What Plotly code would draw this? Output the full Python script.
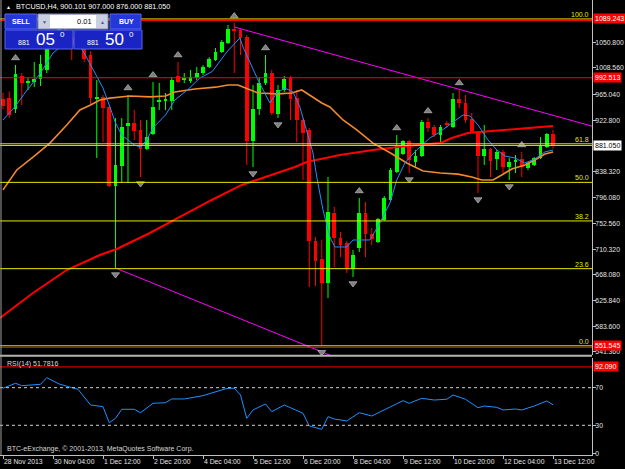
import plotly.graph_objects as go

# ---------------- data ----------------
bar_index = list(range(89))
opens = [957.5, 959.2, 941.1, 995.4, 983.9, 985.5, 990.4, 1005.3, 1046.4, 1062.0,
         1074.0, 1058.0, 1047.0, 1062.0, 1029.9, 957.5, 960.8, 944.4, 814.4, 847.3,
         913.1, 918.1, 906.6, 875.3, 900.0, 952.6, 954.3, 954.3, 995.4, 988.8,
         987.2, 992.1, 1000.3, 1010.2, 1021.7, 1034.9, 1049.7, 1072.7, 1071.1, 1059.5,
         888.5, 941.1, 983.9, 1000.3, 932.9, 972.4, 992.1, 959.2, 923.0, 906.6,
         723.9, 694.3, 654.9, 770.0, 728.9, 720.7, 677.9, 712.4, 770.0, 735.5,
         722.3, 758.5, 791.4, 837.5, 867.0, 888.5, 853.9, 863.8, 919.7, 911.5,
         898.3, 916.4, 911.5, 957.5, 951.0, 924.6, 903.3, 863.8, 875.3, 858.8,
         870.4, 845.7, 853.9, 858.8, 844.0, 849.0, 860.5, 878.6, 900.101]
highs = [967.4, 970.0, 1013.5, 1000.3, 992.1, 1018.4, 1029.9, 1058.0, 1070.0, 1082.0,
         1080.0, 1065.0, 1068.0, 1066.0, 1036.0, 988.8, 964.1, 947.7, 926.3, 926.3,
         964.1, 939.5, 923.0, 923.0, 985.5, 983.9, 967.4, 993.7, 1018.4, 1000.3,
         1005.3, 1010.2, 1013.5, 1026.6, 1041.4, 1054.6, 1079.3, 1082.5, 1072.7, 1062.8,
         980.6, 993.7, 1029.9, 1005.3, 980.6, 995.4, 995.4, 972.4, 926.3, 909.8,
         730.5, 725.6, 829.2, 779.9, 738.8, 723.9, 709.2, 794.7, 788.1, 745.3,
         761.8, 798.0, 844.0, 898.3, 890.1, 890.1, 873.7, 923.0, 926.3, 914.8,
         914.8, 921.4, 967.4, 972.4, 964.1, 934.5, 904.9, 914.8, 876.9, 873.7,
         873.7, 860.5, 865.4, 870.4, 853.9, 862.1, 895.0, 901.6, 907.0]
lows = [941.1, 926.3, 934.5, 947.7, 972.4, 977.3, 978.9, 1000.3, 1040.0, 1056.0,
        1050.0, 1021.7, 1042.0, 1018.4, 947.7, 860.5, 886.8, 812.8, 679.5, 819.4,
        819.4, 890.1, 829.2, 873.7, 898.3, 939.5, 939.5, 939.5, 983.9, 983.9,
        983.9, 988.8, 997.0, 1008.5, 1020.1, 1033.2, 1048.0, 1000.3, 1029.9, 849.0,
        845.7, 931.2, 980.6, 931.2, 926.3, 969.1, 923.0, 886.8, 824.3, 648.3,
        649.9, 551.545, 630.2, 681.2, 697.6, 671.3, 664.7, 705.9, 697.6, 717.4,
        720.7, 756.9, 789.7, 835.8, 865.4, 835.8, 845.7, 862.1, 903.3, 895.0,
        886.8, 909.8, 909.8, 942.7, 918.1, 901.6, 802.9, 849.0, 829.2, 840.8,
        835.8, 824.3, 835.8, 829.2, 840.8, 847.3, 858.8, 876.9, 876.0]
closes = [946.0, 931.2, 998.7, 983.9, 987.2, 990.4, 1015.1, 1046.4, 1062.0, 1074.0,
          1058.0, 1047.0, 1062.0, 1023.3, 959.2, 960.8, 942.7, 814.4, 849.0, 911.5,
          918.1, 904.9, 875.3, 895.0, 944.4, 955.9, 955.9, 988.8, 985.5, 992.1,
          993.7, 1000.3, 1010.2, 1023.3, 1034.9, 1051.3, 1072.7, 1069.4, 1057.9, 888.5,
          941.1, 983.9, 1000.3, 934.5, 972.4, 990.4, 957.5, 923.0, 901.6, 723.9,
          691.1, 654.9, 771.7, 728.9, 717.4, 679.5, 700.9, 770.0, 735.5, 727.3,
          760.2, 794.7, 840.8, 881.9, 888.5, 857.2, 863.8, 919.7, 909.8, 898.3,
          911.5, 915.0, 957.5, 951.0, 923.0, 903.3, 863.8, 875.3, 855.0, 870.4,
          845.7, 853.9, 857.2, 845.7, 852.3, 860.5, 880.2, 900.0, 881.05]

# moving averages (bar position, value)
ma_fast_idx = [0, 2, 3.5, 6, 8, 10, 11, 12, 13, 15, 16, 17, 18, 19, 21, 22, 23, 24, 26,
               27.5, 29.5, 31.5, 33.5, 35.8, 37.9, 38.4, 39.5, 40.8, 42.7, 43.8, 45.1,
               46.4, 47.5, 48.6, 49.6, 50.2, 51.2, 52.3, 53.1, 55, 56, 58.7, 60.3, 61.9,
               63, 64.3, 66.2, 68.3, 69.9, 71.8, 73.6, 74.7, 76, 77.6, 79, 80.3, 81.9,
               83.5, 85.1, 86.7, 88]
ma_fast_val = [923.0, 946.0, 967.4, 1000.3, 1033.2, 1050.0, 1053.0, 1048.0, 1033.2, 993.7,
               975.6, 947.7, 918.0, 898.3, 881.9, 878.6, 890.1, 910.0, 931.2, 955.9,
               972.4, 992.0, 1003.0, 1034.9, 1057.9, 1043.1, 1016.8, 988.8, 951.0, 967.4,
               975.6, 969.1, 944.4, 906.6, 868.7, 829.2, 775.0, 730.5, 714.1, 714.1,
               725.6, 725.6, 753.6, 786.5, 824.3, 852.3, 873.7, 893.4, 903.3, 918.1,
               931.2, 929.6, 914.8, 890.1, 873.7, 863.8, 860.5, 852.3, 858.8, 870.4, 873.7]
ma_mid_idx = [0, 2.2, 4.8, 7.5, 10.2, 12.3, 14, 15.5, 17.1, 20.3, 23.5, 26, 27.5, 30.7,
              34, 36, 37.6, 38.7, 40.8, 44, 46.2, 47.8, 49.1, 51, 52.3, 54.4, 56.6, 59.2,
              62, 64.6, 67.2, 70, 72.8, 75, 76.6, 78.4, 79.8, 81.4, 83.5, 85.1, 86.7, 88]
ma_mid_val = [808.0, 840.8, 862.0, 885.0, 914.8, 939.5, 947.7, 955.9, 959.0, 962.5, 961.0,
              962.5, 969.0, 974.0, 977.0, 980.6, 980.6, 975.6, 967.4, 966.0, 967.4, 972.4,
              964.0, 951.0, 944.4, 923.0, 906.6, 885.0, 868.7, 852.3, 839.0, 835.8, 834.0,
              829.2, 824.3, 824.3, 832.5, 842.4, 849.0, 857.2, 867.0, 870.4]
ma_slow_idx = [-0.5, 4.8, 10.2, 15.5, 18.2, 23.5, 28, 33.4, 38.2, 41.4, 46.7, 48.6, 53.9,
               59.2, 64.6, 70, 71.8, 74.4, 79.8, 85.1, 88]
ma_slow_val = [597.3, 638.4, 676.2, 700.9, 710.8, 737.1, 761.8, 791.4, 816.1, 827.6, 845.7,
               853.9, 865.4, 873.7, 880.2, 885.2, 893.4, 901.6, 906.6, 911.5, 913.1]

# RSI(14)
rsi_idx = [0, 2, 3, 6, 7, 9, 11, 12, 14, 16, 17, 18, 19, 21, 22, 24, 26, 27, 29, 32, 35,
           36, 37, 38, 39, 40, 42, 43, 45, 48, 49, 51, 52, 53, 55, 57, 59, 61, 63, 64, 65,
           67, 69, 71, 72, 74, 76, 77, 79, 80, 82, 83, 85, 87, 88]
rsi_val = [69.4, 74.7, 72.1, 73.6, 80.6, 73.9, 70.0, 68.3, 51.6, 49.8, 32.8, 37.4, 47.0,
           47.0, 43.4, 53.4, 54.0, 58.0, 58.0, 61.5, 67.6, 69.4, 69.4, 62.2, 37.4, 46.3,
           52.7, 44.5, 51.6, 42.8, 29.3, 25.7, 39.1, 36.7, 34.6, 43.4, 39.9, 46.3, 53.4,
           56.2, 53.4, 58.7, 56.9, 57.7, 62.2, 57.7, 48.7, 50.5, 49.1, 46.3, 47.3, 46.3,
           50.5, 55.9, 51.78]

# fractals
fractal_up = [2, 20, 24, 28, 37, 42, 57, 63, 68, 73, 83]
fractal_down = [18, 22, 40, 44, 51, 56, 65, 76, 81]

# levels
fib_high, fib_low = 1089.243, 551.545
fib_ratios = [1.0, 0.618, 0.5, 0.382, 0.236, 0.0]
fib_names = ["100.0", "61.8", "50.0", "38.2", "23.6", "0.0"]
red_levels = [1089.243, 992.513, 551.545]
bid_price = 881.05
rsi_red_level = 92.09

# trend lines (anchor points: bar, price)
trend_upper = [(37, 1076.0), (88, 930.7)]
trend_lower = [(18, 679.5), (51, 541.6)]

price_ticks = [1050.8, 1008.56, 965.04, 922.8, 838.32, 796.08, 752.56,
               710.32, 668.08, 625.84, 583.6, 541.36]
time_tick_idx = [0, 8, 16, 24, 32, 40, 48, 56, 64, 72, 80, 88]
time_tick_text = ["28 Nov 2013", "30 Nov 04:00", "1 Dec 12:00", "2 Dec 20:00",
                  "4 Dec 04:00", "5 Dec 12:00", "6 Dec 20:00", "8 Dec 04:00",
                  "9 Dec 12:00", "10 Dec 20:00", "12 Dec 04:00", "13 Dec 12:00"]

# ---------------- layout geometry ----------------
W, H = 625, 469
MR, MB = 33, 14
PW, PH = W - MR, H - MB          # plot area 592 x 455
MAIN_BOT, RSI_TOP = 355.0, 357.5
y_range = [536.4, 1120.4]
rsi_range = [-1.6, 102.1]
x_range = [-0.48, 94.24]
ppx = (y_range[1] - y_range[0]) / MAIN_BOT   # price per pixel


def PX(px):
    return px / PW


def PY(py):
    return (PH - py) / PH


FONT = "Liberation Sans, Arial, sans-serif"
UP_C, DN_C = "#00FF00", "#FF0000"

fig = go.Figure()

# wicks
for is_up, col in ((True, UP_C), (False, DN_C)):
    xs, ys = [], []
    for i, o, h, l, c in zip(bar_index, opens, highs, lows, closes):
        if (c >= o) == is_up:
            xs += [i, i, None]
            ys += [l, h, None]
    fig.add_trace(go.Scatter(x=xs, y=ys, mode="lines", line=dict(color=col, width=1),
                             hoverinfo="skip"))

# bodies
bases = [min(o, c) for o, c in zip(opens, closes)]
heights = [max(abs(c - o), ppx) for o, c in zip(opens, closes)]
colors = [UP_C if c >= o else DN_C for o, c in zip(opens, closes)]
fig.add_trace(go.Bar(x=bar_index, y=heights, base=bases, width=0.6,
                     marker=dict(color=colors, line=dict(width=0))))

# moving averages
fig.add_trace(go.Scatter(x=ma_slow_idx, y=ma_slow_val, mode="lines",
                         line=dict(color="#FF0000", width=2)))
fig.add_trace(go.Scatter(x=ma_mid_idx, y=ma_mid_val, mode="lines",
                         line=dict(color="#F2892A", width=1.6)))
fig.add_trace(go.Scatter(x=ma_fast_idx, y=ma_fast_val, mode="lines",
                         line=dict(color="#1E90FF", width=1)))


# trend lines as rays
def ray(p1, p2):
    (x1, y1), (x2, y2) = p1, p2
    slope = (y2 - y1) / (x2 - x1)
    xe = x_range[1]
    return [x1, xe], [y1, y1 + slope * (xe - x1)]


for tl in (trend_upper, trend_lower):
    rx, ry = ray(*tl)
    fig.add_trace(go.Scatter(x=rx, y=ry, mode="lines", line=dict(color="#FF00FF", width=1)))

# fractals
fig.add_trace(go.Scatter(x=fractal_up, y=[highs[i] + 7 * ppx for i in fractal_up],
                         mode="markers",
                         marker=dict(symbol="triangle-up", size=7, color="#7E7E7E",
                                     line=dict(color="#CFCFCF", width=0.6))))
fig.add_trace(go.Scatter(x=fractal_down, y=[lows[i] - 6.5 * ppx for i in fractal_down],
                         mode="markers",
                         marker=dict(symbol="triangle-down", size=7, color="#7E7E7E",
                                     line=dict(color="#CFCFCF", width=0.6))))

# RSI
fig.add_trace(go.Scatter(x=rsi_idx, y=rsi_val, mode="lines", xaxis="x2", yaxis="y2",
                         line=dict(color="#1E90FF", width=1)))

shapes = []
# fib lines
YEL = "#E8E800"
for r in fib_ratios:
    lv = fib_low + r * (fib_high - fib_low)
    shapes.append(dict(type="line", xref="paper", x0=0, x1=1, yref="y", y0=lv, y1=lv,
                       line=dict(color=YEL, width=1), layer="above"))
# red horizontal lines (drawn a pixel under the fib ends)
for lv in red_levels:
    off = -1.6 if lv in (fib_high, fib_low) else 0
    shapes.append(dict(type="line", xref="paper", x0=0, x1=1, yref="y", ysizemode="pixel",
                       yanchor=lv, y0=off, y1=off, line=dict(color="#FF0000", width=1),
                       layer="above"))
# bid line
shapes.append(dict(type="line", xref="paper", x0=0, x1=1, yref="y", y0=bid_price,
                   y1=bid_price, line=dict(color="#B8BCC8", width=1), layer="above"))
# RSI levels
for lv in (70, 30):
    shapes.append(dict(type="line", xref="paper", x0=0, x1=1, yref="y2", y0=lv, y1=lv,
                       line=dict(color="#D0D0D0", width=1, dash="3px,3px"), layer="above"))
shapes.append(dict(type="line", xref="paper", x0=0, x1=1, yref="y2", y0=rsi_red_level,
                   y1=rsi_red_level, line=dict(color="#FF0000", width=1), layer="above"))
# frame / separators
shapes.append(dict(type="line", xref="paper", yref="paper", x0=0, x1=1.0,
                   y0=PY(355.8), y1=PY(355.8), line=dict(color="#B4B4B4", width=2),
                   layer="above"))
shapes.append(dict(type="line", xref="paper", yref="paper", x0=PX(1), x1=PX(1),
                   y0=0, y1=1, line=dict(color="#A0A0A0", width=1), layer="above"))

# trade panel
BTN = "#2438DA"
BOX = "#1A24C4"
EDGE = "#5566EE"


def rect(x0, y0, x1, y1, fill, edge=None, w=1):
    shapes.append(dict(type="rect", xref="paper", yref="paper", x0=PX(x0), x1=PX(x1),
                       y0=PY(y1), y1=PY(y0), fillcolor=fill,
                       line=dict(color=edge or fill, width=w), layer="above"))


rect(5, 14, 37, 29, BTN, EDGE)
rect(38, 14, 108, 29, "#C9D0E2", "#8890B0")
rect(50, 15, 96, 28, "#FFFFFF", "#FFFFFF", 0)
rect(110, 14, 141, 29, BTN, EDGE)
rect(5, 30, 73, 49, BOX, EDGE)
rect(74, 30, 142, 49, BOX, EDGE)

annotations = []


def text(px, py, s, size=7, color="#E6E6E6", xanchor="left", yanchor="middle", **kw):
    annotations.append(dict(xref="paper", yref="paper", x=PX(px), y=PY(py), text=s,
                            showarrow=False, xanchor=xanchor, yanchor=yanchor,
                            font=dict(family=FONT, size=size, color=color), **kw))


text(4, 7, "▲", size=5, color="#FFFFFF")
text(14, 7, "BTCUSD,H4‚ 900.101 907.000 876.000 881.050", size=7.2, color="#FFFFFF")
text(21, 21.5, "<b>SELL</b>", size=7, color="#FFFFFF", xanchor="center")
text(126, 21.5, "<b>BUY</b>", size=7, color="#FFFFFF", xanchor="center")
text(44, 21.5, "▼", size=5, color="#4A5C9A", xanchor="center")
text(102, 21.5, "▲", size=5, color="#4A5C9A", xanchor="center")
text(94, 21.5, "0.01", size=7.5, color="#000000", xanchor="right")
for x0, big in ((5, "05"), (74, "50")):
    text(x0 + 19, 42, "881", size=7, color="#FFFFFF", xanchor="center")
    text(x0 + 40, 39.5, big, size=17, color="#FFFFFF", xanchor="center")
    text(x0 + 57, 35, "0", size=8, color="#FFFFFF", xanchor="center")
text(5, 364, "RSI(14) 51.7816", size=7, color="#D8D8D8")
text(5, 449, "BTC-eExchange, © 2001-2013, MetaQuotes Software Corp.", size=7,
     color="#D8D8D8")

# fib labels
for r, nm in zip(fib_ratios, fib_names):
    lv = fib_low + r * (fib_high - fib_low)
    annotations.append(dict(xref="paper", x=PX(591), yref="y", y=lv, text=nm,
                            showarrow=False, xanchor="right", yanchor="bottom", yshift=-1,
                            font=dict(family=FONT, size=7, color=YEL)))


# axis price boxes
def pbox(val, yref, txt, bg, fg):
    annotations.append(dict(xref="paper", x=1, xanchor="left", xshift=1, yref=yref, y=val,
                            text=txt, showarrow=False, bgcolor=bg, borderpad=1,
                            font=dict(family=FONT, size=7, color=fg)))


for lv in red_levels:
    pbox(lv, "y", f"{lv:.3f}", "#FF0000", "#FFFFFF")
pbox(bid_price, "y", f"{bid_price:.3f}", "#FFFFFF", "#000000")
pbox(rsi_red_level, "y2", f"{rsi_red_level:.3f}", "#FF0000", "#FFFFFF")

AX = "#C0C0C0"
TF = dict(family=FONT, size=6.8, color="#E6E6E6")
fig.update_layout(
    width=W, height=H, margin=dict(l=0, r=MR, t=0, b=MB, pad=0),
    paper_bgcolor="#000000", plot_bgcolor="#000000", showlegend=False,
    xaxis=dict(domain=[0, 1], range=x_range, anchor="y", showticklabels=False,
               showgrid=False, zeroline=False, showline=False, ticks="", automargin=False),
    yaxis=dict(domain=[PY(MAIN_BOT), 1], range=y_range, side="right", anchor="x",
               tickvals=price_ticks, ticktext=[f"{v:.3f}" for v in price_ticks],
               ticks="outside", ticklen=3, tickcolor=AX, tickfont=TF, showgrid=False,
               zeroline=False, showline=True, linecolor=AX, automargin=False,
               ticklabelstandoff=-2),
    xaxis2=dict(domain=[0, 1], range=x_range, anchor="y2", tickvals=time_tick_idx,
                ticktext=time_tick_text, ticks="outside", ticklen=3, tickcolor=AX,
                ticklabelposition="outside right", tickangle=0, tickfont=TF,
                showgrid=False, zeroline=False, showline=True, linecolor=AX,
                automargin=False),
    yaxis2=dict(domain=[0, PY(RSI_TOP)], range=rsi_range, side="right", anchor="x2",
                tickvals=[0, 30, 70], ticktext=["0", "30", "70"], ticks="outside",
                ticklen=3, tickcolor=AX, tickfont=TF, showgrid=False, zeroline=False,
                showline=True, linecolor=AX, automargin=False, ticklabelstandoff=-2),
    shapes=shapes, annotations=annotations, bargap=0,
)

fig.write_html("out.html")
